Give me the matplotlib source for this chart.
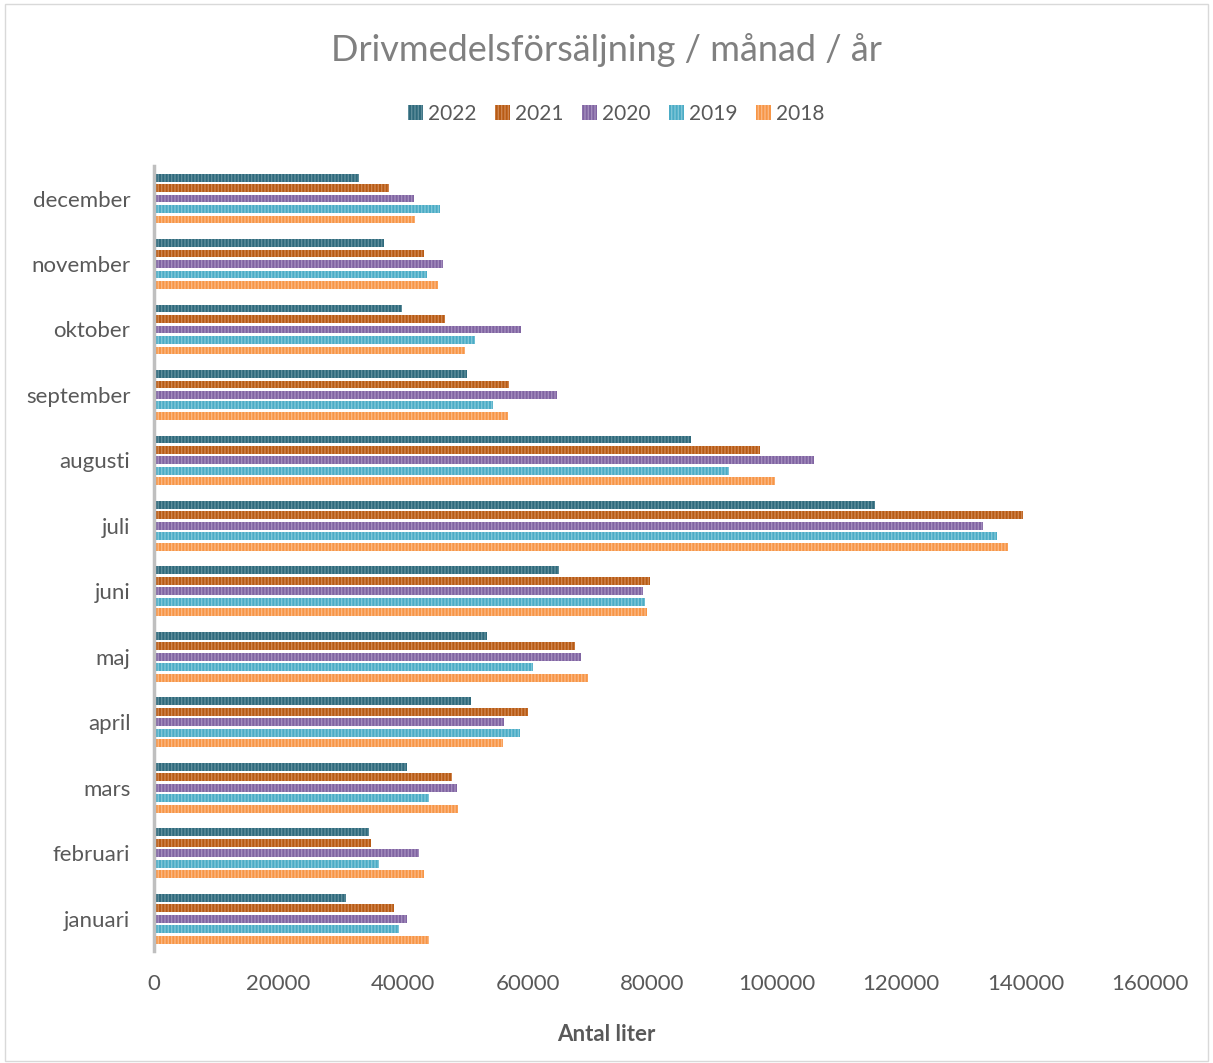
import matplotlib
matplotlib.use("Agg")
import matplotlib.pyplot as plt
import numpy as np

plt.rcParams['font.family'] = ['Lato', 'DejaVu Sans']
plt.rcParams['hatch.linewidth'] = 1.0

# data (liters), bottom to top
months = ["januari", "februari", "mars", "april", "maj", "juni",
          "juli", "augusti", "september", "oktober", "november", "december"]
years = ["2022", "2021", "2020", "2019", "2018"]

v2022 = [30900, 34500, 40700, 51000, 53500, 65100, 115800, 86300, 50200, 39800, 37000, 32900]
v2021 = [38500, 34800, 47900, 60000, 67700, 79700, 139600, 97300, 57100, 46700, 43300, 37800]
v2020 = [40600, 42500, 48600, 56300, 68600, 78600, 133200, 106000, 64800, 59000, 46500, 41700]
v2019 = [39300, 36200, 44100, 58800, 60900, 78900, 135500, 92300, 54500, 51500, 43800, 46000]
v2018 = [44200, 43300, 48900, 56000, 69700, 79200, 137200, 99700, 56900, 50000, 45700, 42000]
series = [v2022, v2021, v2020, v2019, v2018]

colors = ["#2F6A7C", "#B85B14", "#8064A2", "#4BACC6", "#F79646"]
hatch_cols = ["#5F8E9C", "#CF8550", "#A38DBD", "#80C6D8", "#FAB783"]

fig = plt.figure(figsize=(12.13, 10.63), dpi=100)
ax = fig.add_axes([0.127, 0.105, 0.821, 0.739])

y = np.arange(len(months))
step = 0.16
h = 0.12
for i, (vals, c, hc, lab) in enumerate(zip(series, colors, hatch_cols, years)):
    off = (2 - i) * step
    ax.barh(y + off, vals, height=h, color=c, edgecolor=hc, linewidth=0,
            hatch="|||||", label=lab)

ax.set_xlim(0, 160000)
ax.set_ylim(-0.5, 11.5)
ax.set_yticks(y)
ax.set_yticklabels(months)
ax.set_xticks(np.arange(0, 160001, 20000))
ax.set_xticklabels([str(v) for v in range(0, 160001, 20000)])
ax.tick_params(axis="both", length=0, labelsize=16, labelcolor="#595959")
ax.tick_params(axis="x", pad=16)
ax.tick_params(axis="y", pad=17)
for s in ["top", "right", "bottom"]:
    ax.spines[s].set_visible(False)
ax.spines["left"].set_color("#BFBFBF")
ax.spines["left"].set_linewidth(2.5)

# axis title centred on the chart, not the plot area
fig.text(0.5, 0.027, "Antal liter", ha="center", va="center",
         fontsize=16, fontweight="bold", color="#595959")

fig.text(0.5, 0.953, "Drivmedelsförsäljning / månad / år", ha="center", va="center",
         fontsize=26, color="#808080")

fig.legend(loc="center", bbox_to_anchor=(0.508, 0.893), ncol=5, frameon=False,
           fontsize=15, labelcolor="#595959", handlelength=0.7, handleheight=0.7,
           handletextpad=0.25, columnspacing=0.9)

# chart border
fig.patches.append(plt.Rectangle((0.004, 0.002), 0.992, 0.994, transform=fig.transFigure,
                                 fill=False, edgecolor="#D9D9D9", linewidth=1))

fig.savefig("out.png", dpi=100)
